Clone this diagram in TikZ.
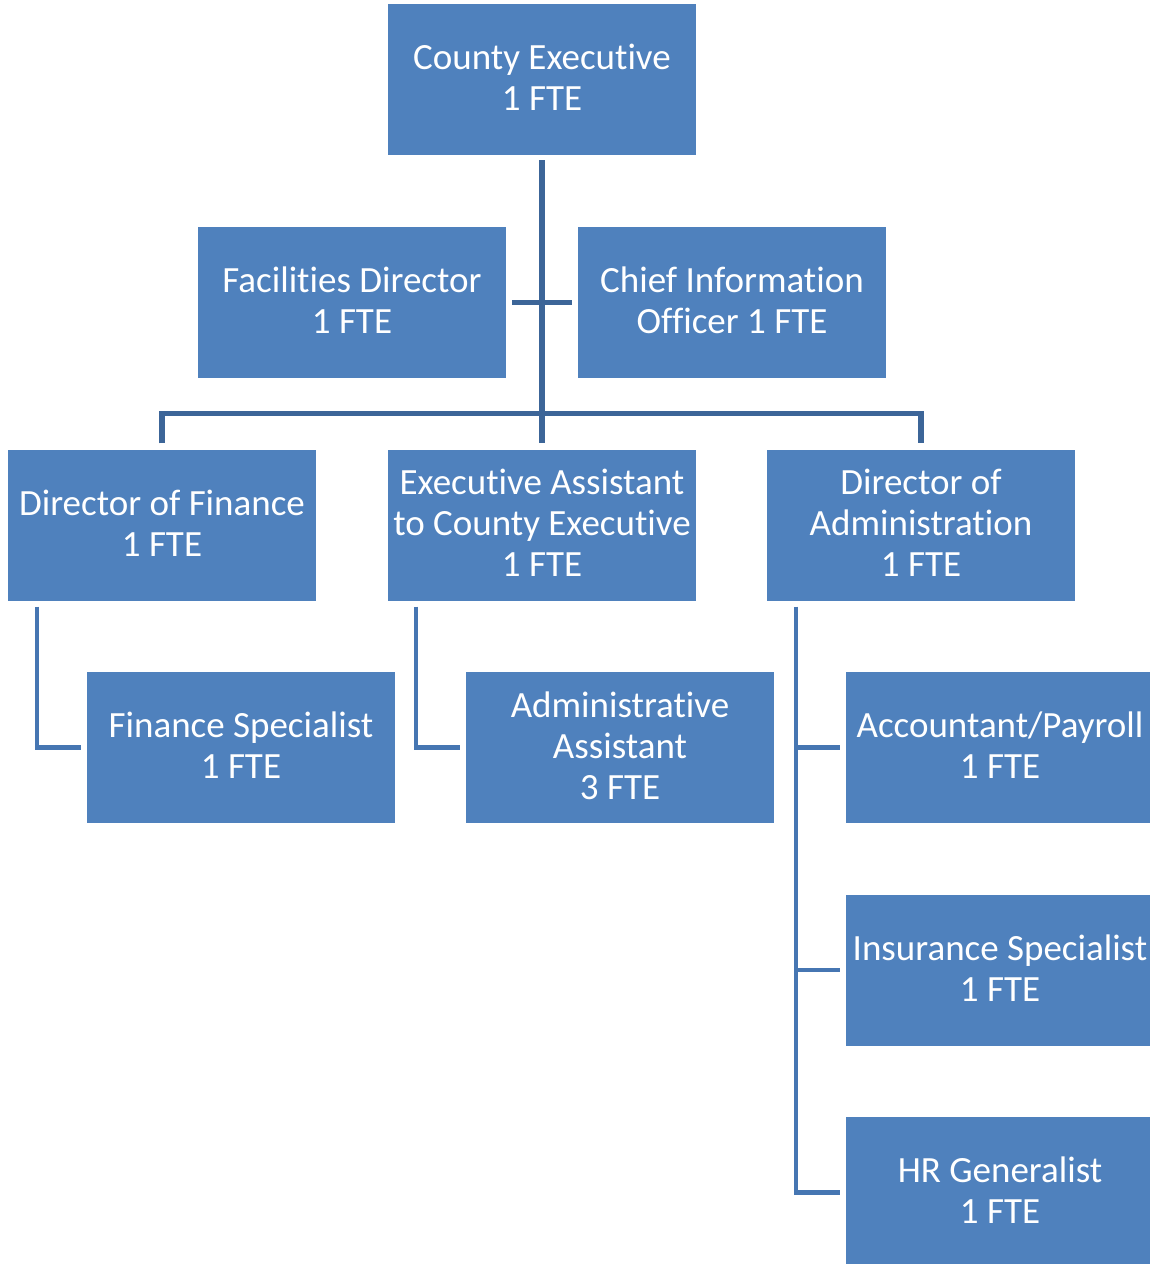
\documentclass[tikz,border=0pt]{standalone}
\usepackage{fontspec}
\setmainfont{Carlito}[RawFeature=-liga]
\definecolor{boxblue}{HTML}{4F81BD}
\definecolor{topline}{HTML}{3C6598}
\definecolor{lowline}{HTML}{4676B2}
\newcommand{\lowfix}{\rule[-4pt]{0pt}{4pt}}
\begin{document}
\begin{tikzpicture}[x=1pt,y=-1pt,
  orgbox/.style={fill=boxblue, minimum width=308pt, minimum height=151pt, inner sep=0pt,
    text=white, align=center, font=\fontsize{37}{41}\selectfont},
  trunk/.style={draw=topline, line width=5.5pt},
  branch/.style={draw=lowline, line width=4.5pt, line join=miter}]
\useasboundingbox (0,0) rectangle (1150,1264);
\node[orgbox] (ce) at (542,79.5) {County Executive\\1 FTE\lowfix};
\node[orgbox] (fd) at (352,302.5) {Facilities Director\\1 FTE\lowfix};
\node[orgbox] (cio) at (732,302.5) {Chief Information\\Officer 1 FTE\lowfix};
\node[orgbox] (df) at (162,525) {Director of Finance\\1 FTE\lowfix};
\node[orgbox] (ea) at (542,525) {Executive Assistant\\to County Executive\\1 FTE\lowfix};
\node[orgbox] (da) at (921,525) {Director of\\Administration\\1 FTE\lowfix};
\node[orgbox] (fs) at (241,747.5) {Finance Specialist\\1 FTE\lowfix};
\node[orgbox] (aa) at (620,747.5) {Administrative\\Assistant\\3 FTE\lowfix};
\node[orgbox] (ap) at (1000,747.5) {Accountant/Payroll\\1 FTE\lowfix};
\node[orgbox] (is) at (1000,970) {Insurance Specialist\\1 FTE\lowfix};
\node[orgbox] (hr) at (1000,1192.5) {HR Generalist\\1 FTE\lowfix};
% top connectors
\draw[trunk] ([yshift=-5pt]ce.south) -- ([yshift=6pt]ea.north);
\draw[trunk] ([xshift=6pt]fd.east) -- ([xshift=-6pt]cio.west);
\draw[trunk] ([yshift=6pt]df.north) -- ([yshift=36pt]df.north) -| ([yshift=6pt]da.north);
% lower connectors
\draw[branch] ([xshift=29pt,yshift=-6pt]df.south west) |- ([xshift=-6pt]fs.west);
\draw[branch] ([xshift=28pt,yshift=-6pt]ea.south west) |- ([xshift=-6pt]aa.west);
\draw[branch] ([xshift=29pt,yshift=-6pt]da.south west) |- ([xshift=-6pt]hr.west);
\coordinate (dax) at ([xshift=29pt]da.south west);
\draw[branch] (dax |- ap.west) -- ([xshift=-6pt]ap.west);
\draw[branch] (dax |- is.west) -- ([xshift=-6pt]is.west);
\end{tikzpicture}
\end{document}
